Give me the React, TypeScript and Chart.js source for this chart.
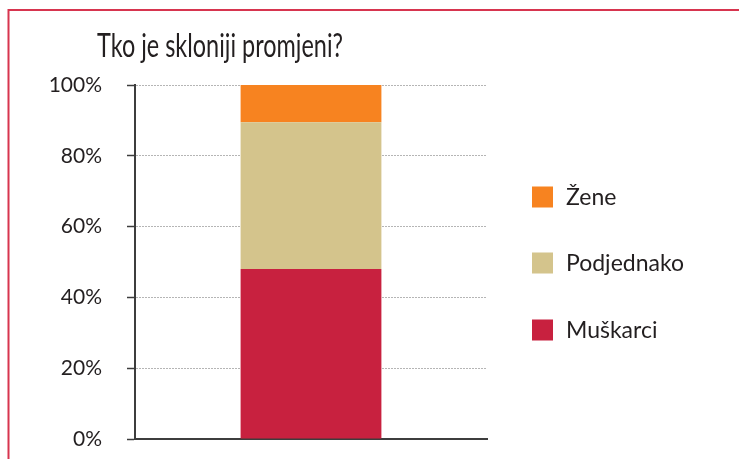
import React, { useEffect, useRef } from "react";
import { Chart, registerables } from "chart.js";

Chart.register(...registerables);

const chartTitle = "Tko je skloniji promjeni?";
const categories = [""];
const seriesNames = ["Muškarci", "Podjednako", "Žene"];
const muskarci = [48];
const podjednako = [41.5];
const zene = [10.5];
const seriesColors = ["#c8213f", "#d4c48c", "#f78320"];
const yMin = 0;
const yMax = 100;
const yStep = 20;

const FONT = "Lato, 'Open Sans', sans-serif";
const TEXT = "#231f20";

const decorPlugin = {
  id: "decor",
  afterDraw(chart: any) {
    const ctx = chart.ctx as CanvasRenderingContext2D;
    ctx.save();
    // frame
    ctx.strokeStyle = "#d7354f";
    ctx.lineWidth = 2;
    ctx.beginPath();
    ctx.moveTo(8.5, 459);
    ctx.lineTo(8.5, 10);
    ctx.lineTo(739, 10);
    ctx.stroke();
    // title (condensed horizontally to mimic the narrow original face)
    ctx.fillStyle = TEXT;
    ctx.font = `33px ${FONT}`;
    ctx.textAlign = "left";
    ctx.textBaseline = "alphabetic";
    const w = ctx.measureText(chartTitle).width;
    const sx = 246 / w;
    ctx.save();
    ctx.translate(97, 57);
    ctx.scale(sx, 1);
    ctx.fillText(chartTitle, 0, 0);
    ctx.restore();
    // legend (reverse order of stacking)
    const ds = chart.data.datasets;
    const ys = [197, 263, 330];
    ctx.font = `23px ${FONT}`;
    ctx.textBaseline = "middle";
    for (let i = 0; i < ds.length; i++) {
      const d = ds[ds.length - 1 - i];
      const y = ys[i];
      ctx.fillStyle = d.backgroundColor as string;
      ctx.fillRect(532, y - 10.5, 21, 21);
      ctx.fillStyle = TEXT;
      ctx.fillText(d.label, 566, y + 1);
    }
    ctx.restore();
  },
};

export default function App() {
  const ref = useRef<HTMLCanvasElement | null>(null);
  useEffect(() => {
    if (!ref.current) return;
    const chart = new Chart(ref.current, {
      type: "bar",
      data: {
        labels: categories,
        datasets: [
          { label: seriesNames[0], data: muskarci, backgroundColor: seriesColors[0] },
          { label: seriesNames[1], data: podjednako, backgroundColor: seriesColors[1] },
          { label: seriesNames[2], data: zene, backgroundColor: seriesColors[2] },
        ],
      },
      options: {
        animation: false,
        responsive: false,
        devicePixelRatio: 1,
        layout: { padding: { left: 0, top: 85, right: 252, bottom: 20 } },
        plugins: {
          legend: { display: false },
          title: { display: false },
          tooltip: { enabled: false },
        },
        datasets: { bar: { barPercentage: 0.8, categoryPercentage: 0.5, borderWidth: 0 } },
        scales: {
          x: {
            stacked: true,
            ticks: { display: false },
            grid: { display: false },
            border: { display: true, color: "#3d3d3d", width: 2 },
            afterFit: (s: any) => {
              s.height = 0;
            },
          },
          y: {
            stacked: true,
            min: yMin,
            max: yMax,
            ticks: {
              stepSize: yStep,
              padding: 25,
              color: TEXT,
              font: { family: FONT, size: 21 },
              callback: (v: any) => `${v}%`,
            },
            grid: {
              color: "#b5b5b5",
              tickColor: "#3d3d3d",
              tickBorderDash: [],
              tickLength: 8,
              lineWidth: 1,
              tickWidth: 1.5,
            } as any,
            border: { display: true, color: "#3d3d3d", width: 2, dash: [2, 1] },
            afterFit: (s: any) => {
              s.width = 135;
              s.paddingTop = 0;
              s.paddingBottom = 0;
            },
          },
        },
      },
      plugins: [decorPlugin],
    } as any);
    return () => chart.destroy();
  }, []);
  return (
    <div style={{ position: "fixed", left: 0, top: 0, width: 739, height: 459, background: "#fff" }}>
      <canvas ref={ref} width={739} height={459} style={{ width: 739, height: 459, display: "block" }} />
    </div>
  );
}
